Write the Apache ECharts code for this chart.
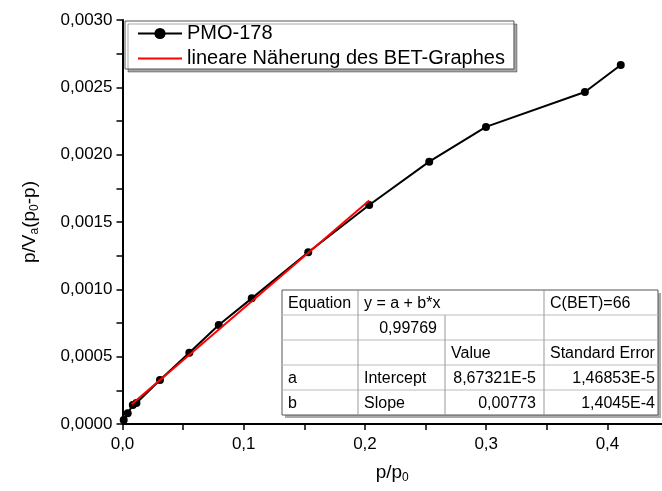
<!DOCTYPE html>
<html><head><meta charset="utf-8">
<script src="https://cdn.jsdelivr.net/npm/echarts@6/dist/echarts.min.js"></script>
<style>html,body{margin:0;padding:0;background:#fff}#c{width:662px;height:491px}</style>
</head><body><div id="c"></div>
<script>
const seriesNames = ['PMO-178', 'lineare Näherung des BET-Graphes'];
const xValues = [0.001, 0.0043, 0.0085, 0.0115, 0.0309, 0.0551, 0.0794, 0.1066, 0.1532, 0.2035, 0.2530, 0.2998, 0.3814, 0.4110];
const yValues = [0.00003, 0.00008, 0.000141, 0.000156, 0.000327, 0.000529, 0.000735, 0.000933, 0.001275, 0.001626, 0.001948, 0.002206, 0.002465, 0.002666];
const fitX = [0.0076, 0.2035];
const fitY = [0.000146, 0.00166];
const tableRows = [
  ['Equation', 'y = a + b*x', '', 'C(BET)=66'],
  ['', '0,99769', '', ''],
  ['', '', 'Value', 'Standard Error'],
  ['a', 'Intercept', '8,67321E-5', '1,46853E-5'],
  ['b', 'Slope', '0,00773', '1,4045E-4']
];

const FONT = 'Arial, "Liberation Sans", sans-serif';
const chart = echarts.init(document.getElementById('c'), null, {renderer: 'canvas'});

const tL = 282, tT = 290, tR = 658, rowH = 25;
const colX = [282, 358, 445, 544, 658];
const els = [];
els.push({type: 'rect', shape: {x: tL + 3, y: tT + 3, width: tR - tL, height: rowH * 5}, style: {fill: '#aaa'}, z: 10});
els.push({type: 'rect', shape: {x: tL, y: tT, width: tR - tL, height: rowH * 5}, style: {fill: '#fff', stroke: '#555', lineWidth: 1}, z: 11});
for (let r = 1; r < 5; r++) {
  els.push({type: 'line', shape: {x1: tL, y1: tT + r * rowH, x2: tR, y2: tT + r * rowH}, style: {stroke: '#bbb', lineWidth: 1}, z: 12});
}
for (let c = 1; c < 4; c++) {
  const startRow = (c === 2) ? 1 : 0;
  els.push({type: 'line', shape: {x1: colX[c], y1: tT + startRow * rowH, x2: colX[c], y2: tT + 5 * rowH}, style: {stroke: '#999', lineWidth: 1}, z: 12});
}
const rightAligned = {'1,1': 437, '3,2': 536, '3,3': 655, '4,2': 536, '4,3': 655};
tableRows.forEach((row, r) => {
  row.forEach((txt, c) => {
    if (!txt) return;
    const key = r + ',' + c;
    const ra = rightAligned[key];
    els.push({type: 'text', z: 13, style: {
      text: txt, x: ra !== undefined ? ra : colX[c] + 6, y: tT + r * rowH + rowH / 2 + 1,
      align: ra !== undefined ? 'right' : 'left', verticalAlign: 'middle',
      font: '16px ' + FONT, fill: '#000'
    }});
  });
});

const fmtX = v => (Math.round(v / 0.05) % 2 === 0) ? v.toFixed(1).replace('.', ',') : '';
const fmtY = v => (Math.round(v / 0.00025) % 2 === 0) ? v.toFixed(4).replace('.', ',') : '';

chart.setOption({
  animation: false,
  backgroundColor: '#fff',
  grid: {left: 122.5, top: 20, right: 0, bottom: 67, containLabel: false},
  legend: {
    orient: 'vertical', left: 125, top: 21,
    data: [
      {name: seriesNames[0]},
      {name: seriesNames[1], itemStyle: {opacity: 0}}
    ],
    itemWidth: 44, itemHeight: 14, itemGap: 4,
    padding: [2, 9, 0, 12],
    backgroundColor: '#fff', borderColor: '#555', borderWidth: 1,
    shadowColor: 'rgba(0,0,0,0.35)', shadowOffsetX: 3, shadowOffsetY: 3, shadowBlur: 0,
    textStyle: {fontSize: 20, fontFamily: FONT, color: '#000', lineHeight: 21}
  },
  xAxis: {
    type: 'value', min: 0, max: 0.445, interval: 0.05,
    name: '{a|p/p}{s|0}', nameLocation: 'middle', nameGap: 38,
    nameTextStyle: {rich: {a: {fontSize: 19, fontFamily: FONT, color: '#000'}, s: {fontSize: 12, fontFamily: FONT, color: '#000', verticalAlign: 'bottom', padding: [10, 0, 0, 0]}}},
    axisLine: {show: true, lineStyle: {color: '#000', width: 2}},
    axisTick: {show: true, inside: false, length: 6, lineStyle: {color: '#000', width: 1.5}},
    axisLabel: {formatter: fmtX, fontSize: 17, fontFamily: FONT, color: '#000', margin: 12, showMaxLabel: false},
    splitLine: {show: false}
  },
  yAxis: {
    type: 'value', min: 0, max: 0.003, interval: 0.00025,
    name: '{a|p/V}{s|a}{a|(p}{s|0}{a|-p)}', nameLocation: 'middle', nameGap: 82,
    nameTextStyle: {rich: {a: {fontSize: 19, fontFamily: FONT, color: '#000'}, s: {fontSize: 12, fontFamily: FONT, color: '#000', verticalAlign: 'bottom', padding: [10, 0, 0, 0]}}},
    axisLine: {show: true, lineStyle: {color: '#000', width: 2}},
    axisTick: {show: true, inside: false, length: 6, lineStyle: {color: '#000', width: 1.5}},
    axisLabel: {formatter: fmtY, fontSize: 17, fontFamily: FONT, color: '#000', margin: 10},
    splitLine: {show: false}
  },
  series: [
    {
      name: seriesNames[0], type: 'line',
      data: xValues.map((x, i) => [x, yValues[i]]),
      symbol: 'circle', symbolSize: 8,
      lineStyle: {color: '#000', width: 2}, itemStyle: {color: '#000'},
      z: 2
    },
    {
      name: seriesNames[1], type: 'line',
      data: fitX.map((x, i) => [x, fitY[i]]),
      symbol: 'none',
      lineStyle: {color: '#ff0000', width: 2}, itemStyle: {color: '#ff0000'},
      z: 3
    }
  ],
  graphic: els
});
</script>
</body></html>
